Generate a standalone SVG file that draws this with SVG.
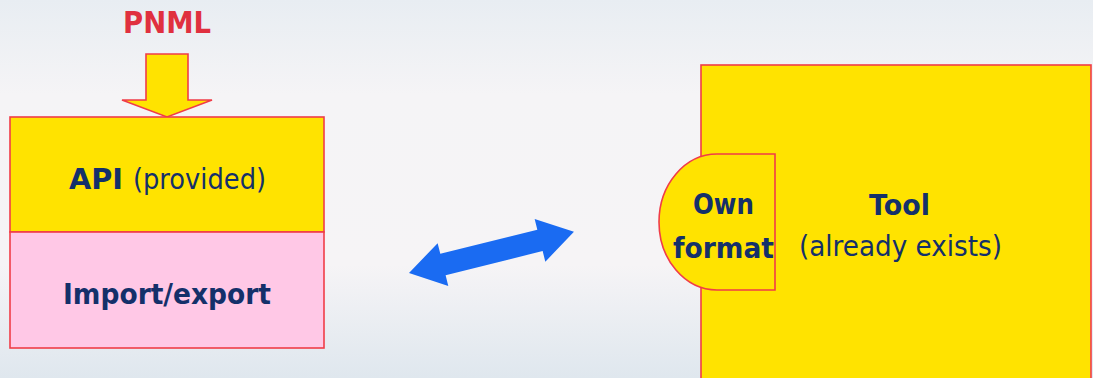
<svg xmlns="http://www.w3.org/2000/svg" width="1093" height="378" viewBox="0 0 1093 378">
<defs>
<linearGradient id="bg" x1="0" y1="0" x2="0" y2="1">
<stop offset="0" stop-color="#e8edf2"/>
<stop offset="0.25" stop-color="#f5f4f6"/>
<stop offset="0.7" stop-color="#f6f4f6"/>
<stop offset="1" stop-color="#dfe7ee"/>
</linearGradient>
<style>
.box{stroke:#f03c48;stroke-width:1.6}
.y{fill:#ffe300}
.p{fill:#ffc8e6}
.t{font-family:"DejaVu Sans","Liberation Sans",sans-serif;fill:#14306a;font-size:28px}
.b{font-weight:bold}
</style>
</defs>
<rect width="1093" height="378" fill="url(#bg)"/>
<text x="123" y="33" font-family="DejaVu Sans,Liberation Sans,sans-serif" font-weight="bold" font-size="30" fill="#e0303f" textLength="88" lengthAdjust="spacingAndGlyphs">PNML</text>
<g id="connectors">
<polygon id="pnml-arrow" class="box y" points="146,54 188,54 188,100 212,100 167,117 122,100 146,100"/>
<polygon id="exchange" fill="#1a6bf2" transform="translate(409,273) rotate(-14)" points="0,0 35,-22 35,-11 135,-11 135,-22 170,0 135,22 135,11 35,11 35,22"/>
</g>
<g id="api">
<rect class="box y" x="10" y="117" width="314" height="115"/>
<text class="t b" x="69" y="189" textLength="54" lengthAdjust="spacingAndGlyphs">API</text>
<text class="t" x="133" y="189" textLength="133" lengthAdjust="spacingAndGlyphs">(provided)</text>
</g>
<g id="importexport">
<rect class="box p" x="10" y="232" width="314" height="116"/>
<text class="t b" x="63" y="304" textLength="208" lengthAdjust="spacingAndGlyphs">Import/export</text>
</g>
<g id="tool">
<rect class="box y" x="701" y="65" width="390" height="330"/>
<text class="t b" x="869" y="215" textLength="61" lengthAdjust="spacingAndGlyphs">Tool</text>
<text class="t" x="799" y="256" textLength="203" lengthAdjust="spacingAndGlyphs">(already exists)</text>
</g>
<g id="ownformat">
<path class="box y" d="M775,154 L717,154 A58,68 0 0 0 717,290 L775,290 Z"/>
<text class="t b" x="693" y="214" textLength="61" lengthAdjust="spacingAndGlyphs">Own</text>
<text class="t b" x="673" y="258" textLength="101" lengthAdjust="spacingAndGlyphs">format</text>
</g>
</svg>
